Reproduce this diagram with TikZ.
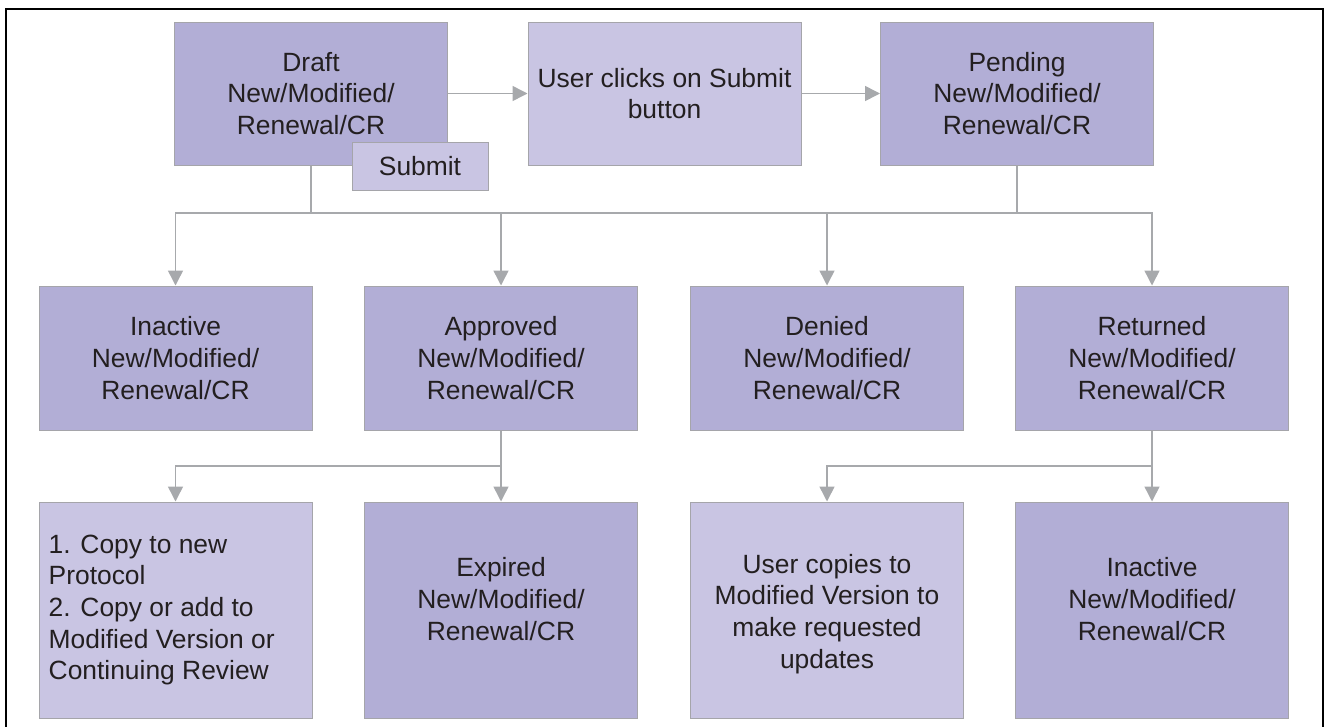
\documentclass[tikz,border=0pt]{standalone}
\usepackage{fontspec}
\setmainfont{Liberation Sans}
\usetikzlibrary{arrows.meta,calc}
\definecolor{stateFill}{RGB}{178,174,214}
\definecolor{actionFill}{RGB}{201,197,227}
\definecolor{edgeGray}{RGB}{167,169,172}
\definecolor{boxLine}{RGB}{165,165,170}
\definecolor{inkText}{RGB}{35,31,32}
\begin{document}
\begin{tikzpicture}[x=1pt,y=-1pt,
  every node/.style={font=\fontsize{26.4}{31.7}\selectfont, text=inkText},
  box/.style={rectangle, draw=boxLine, line width=1pt, inner sep=0pt,
              minimum width=273pt, align=center},
  state/.style={box, fill=stateFill},
  action/.style={box, fill=actionFill},
  txt/.style={inner sep=0pt, align=center},
  link/.style={draw=edgeGray, line width=1.5pt},
  flow/.style={link, -{Triangle[width=15pt,length=15pt]}}]

\useasboundingbox (0,0) rectangle (1329,726);

% outer frame (open at the bottom)
\draw[line width=2.3pt] (6,730) -- (6,9) -- (1323,9) -- (1323,730);

% top row
\node[state, minimum height=143pt] (draft) at (311,93.5) {Draft\\New/Modified/\\Renewal/CR};
\node[action, minimum height=143pt] (click) at (664.5,93.5) {User clicks on Submit\\button};
\node[state, minimum height=143pt] (pend) at (1017,93.5) {Pending\\New/Modified/\\Renewal/CR};
\node[action, minimum width=136pt, minimum height=48pt] (submit) at (420,166) {Submit};

% middle row
\node[state, minimum height=144pt] (inact) at (175.5,358) {Inactive\\New/Modified/\\Renewal/CR};
\node[state, minimum height=144pt] (appr) at (501,358) {Approved\\New/Modified/\\Renewal/CR};
\node[state, minimum height=144pt] (deny) at (827,358) {Denied\\New/Modified/\\Renewal/CR};
\node[state, minimum height=144pt] (ret) at (1152,358) {Returned\\New/Modified/\\Renewal/CR};

% bottom row
\node[action, minimum height=216pt] (copy) at (175.5,610) {};
\node[state, minimum height=216pt] (exp) at (501,610) {};
\node[action, minimum height=216pt] (ucopy) at (827,610) {};
\node[state, minimum height=216pt] (inact2) at (1152,610) {};

\node[txt, anchor=west, align=left] (copyText) at ($(copy.west)+(10,0)$)
  {1. Copy to new\\Protocol\\2. Copy or add to\\Modified Version or\\Continuing Review};
\node[txt] (expText) at ($(exp.center)+(0,-11)$) {Expired\\New/Modified/\\Renewal/CR};
\node[txt] (ucopyText) at ($(ucopy.center)+(0,4)$) {User copies to\\Modified Version to\\make requested\\updates};
\node[txt] (inact2Text) at ($(inact2.center)+(0,-11)$) {Inactive\\New/Modified/\\Renewal/CR};

% junctions
\coordinate (j1) at (draft.south |- 0,213);
\coordinate (j2) at (pend.south |- 0,213);
\coordinate (j3) at (appr.south |- 0,466);
\coordinate (j4) at (ret.south |- 0,466);

% connectors
\draw[flow] (draft.east) -- (click.west);
\draw[flow] (click.east) -- (pend.west);

\draw[link] (draft.south) -- (j1);
\draw[link] (pend.south) -- (j2);
\draw[link] (j1) -- (j2);
\draw[flow] (j1) -| (inact.north);
\draw[flow] (j1) -| (appr.north);
\draw[flow] (j2) -| (deny.north);
\draw[flow] (j2) -| (ret.north);

\draw[link] (appr.south) -- (j3);
\draw[flow] (j3) -| (copy.north);
\draw[flow] (j3) -- (exp.north);
\draw[link] (ret.south) -- (j4);
\draw[flow] (j4) -| (ucopy.north);
\draw[flow] (j4) -- (inact2.north);
\end{tikzpicture}
\end{document}
